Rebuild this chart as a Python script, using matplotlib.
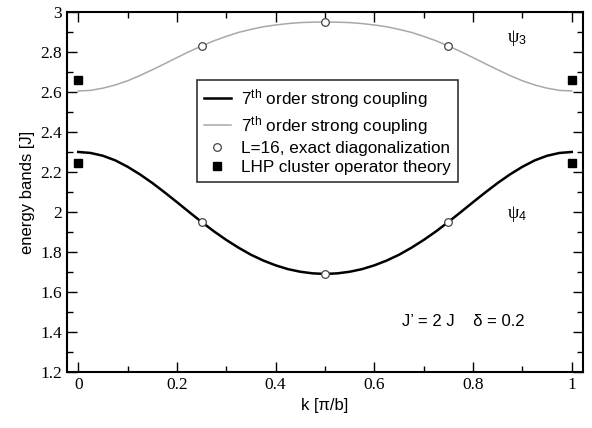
import matplotlib
matplotlib.use("Agg")
import matplotlib.pyplot as plt
from matplotlib.ticker import MultipleLocator

plt.rcParams['font.serif'] = ['Liberation Serif', 'DejaVu Serif']
plt.rcParams['font.sans-serif'] = ['Liberation Sans', 'DejaVu Sans']
plt.rcParams['font.family'] = 'serif'
plt.rcParams['mathtext.fontset'] = 'custom'
plt.rcParams['mathtext.rm'] = 'Liberation Sans'
plt.rcParams['mathtext.it'] = 'Liberation Sans:italic'

# strong coupling curves
k_curve = [0.000, 0.025, 0.050, 0.075, 0.100, 0.125, 0.150, 0.175, 0.200, 0.225,
           0.250, 0.275, 0.300, 0.325, 0.350, 0.375, 0.400, 0.425, 0.450, 0.475,
           0.500, 0.525, 0.550, 0.575, 0.600, 0.625, 0.650, 0.675, 0.700, 0.725,
           0.750, 0.775, 0.800, 0.825, 0.850, 0.875, 0.900, 0.925, 0.950, 0.975, 1.000]
psi4_curve = [2.300, 2.295, 2.281, 2.258, 2.226, 2.188, 2.145, 2.098, 2.049, 1.999,
              1.950, 1.903, 1.860, 1.821, 1.786, 1.757, 1.733, 1.714, 1.701, 1.693,
              1.690, 1.693, 1.701, 1.714, 1.733, 1.757, 1.786, 1.821, 1.860, 1.903,
              1.950, 1.999, 2.049, 2.098, 2.145, 2.188, 2.226, 2.258, 2.281, 2.295, 2.300]
psi3_curve = [2.605, 2.608, 2.619, 2.635, 2.656, 2.682, 2.711, 2.741, 2.772, 2.802,
              2.830, 2.856, 2.878, 2.898, 2.913, 2.926, 2.935, 2.942, 2.947, 2.949,
              2.950, 2.949, 2.947, 2.942, 2.935, 2.926, 2.913, 2.898, 2.878, 2.856,
              2.830, 2.802, 2.772, 2.741, 2.711, 2.682, 2.656, 2.635, 2.619, 2.608, 2.605]

# exact diagonalization L=16
k_ed = [0.25, 0.5, 0.75]
psi3_ed = [2.83, 2.95, 2.83]
psi4_ed = [1.95, 1.69, 1.95]

# LHP cluster operator theory
k_lhp = [0.0, 1.0]
psi3_lhp = [2.66, 2.66]
psi4_lhp = [2.245, 2.245]

xtick_vals = [0, 0.2, 0.4, 0.6, 0.8, 1.0]
xtick_labels = ['0', '0.2', '0.4', '0.6', '0.8', '1']
ytick_vals = [1.2, 1.4, 1.6, 1.8, 2.0, 2.2, 2.4, 2.6, 2.8, 3.0]
ytick_labels = ['1.2', '1.4', '1.6', '1.8', '2', '2.2', '2.4', '2.6', '2.8', '3']

fig = plt.figure(figsize=(5.92, 4.28), dpi=100)
ax = fig.add_axes([0.113, 0.131, 0.872, 0.841])

l1, = ax.plot(k_curve, psi4_curve, color='black', lw=1.8)
l2, = ax.plot(k_curve, psi3_curve, color='#a8a8a8', lw=1.1)
ax.plot(k_ed, psi3_ed, 'o', mfc='white', mec='#444444', ms=5.5, mew=0.9, zorder=5)
l3, = ax.plot(k_ed, psi4_ed, 'o', mfc='white', mec='#444444', ms=5.5, mew=0.9, zorder=5)
ax.plot(k_lhp, psi3_lhp, 's', color='black', ms=6, zorder=5)
l4, = ax.plot(k_lhp, psi4_lhp, 's', color='black', ms=6, zorder=5)

ax.set_xlim(-0.023, 1.023)
ax.set_ylim(1.2, 3.0)
ax.xaxis.set_minor_locator(MultipleLocator(0.1))
ax.yaxis.set_minor_locator(MultipleLocator(0.1))
ax.tick_params(which='both', direction='in', top=True, right=True, labelsize=12.5)
ax.tick_params(which='major', length=7, width=1)
ax.tick_params(which='minor', length=4, width=1)
ax.set_xticks(xtick_vals)
ax.set_xticklabels(xtick_labels, fontfamily='serif', fontsize=12.5)
ax.set_yticks(ytick_vals)
ax.set_yticklabels(ytick_labels, fontfamily='serif', fontsize=12.5)
for s in ax.spines.values():
    s.set_linewidth(1.5)

ax.set_xlabel('k [\u03c0/b]', fontfamily='sans-serif', fontsize=12)
ax.set_ylabel('energy bands [J]', fontfamily='sans-serif', fontsize=12)

ax.text(0.87, 2.85, '\u03c8', fontfamily='serif', fontsize=13)
ax.text(0.893, 2.838, '3', fontfamily='sans-serif', fontsize=9)
ax.text(0.87, 1.97, '\u03c8', fontfamily='serif', fontsize=13)
ax.text(0.893, 1.958, '4', fontfamily='sans-serif', fontsize=9)
ax.text(0.655, 1.45, "J\u2019 = 2 J    \u03b4 = 0.2", fontfamily='sans-serif', fontsize=12, va='center')

leg = ax.legend([l1, l2, l3, l4],
                [r'7$^{\rm th}$ order strong coupling', r'7$^{\rm th}$ order strong coupling',
                 'L=16, exact diagonalization', 'LHP cluster operator theory'],
                loc='upper left', bbox_to_anchor=(0.235, 0.835), frameon=True, fancybox=False,
                edgecolor='black', prop={'family': 'sans-serif', 'size': 12.3},
                handlelength=1.6, handletextpad=0.6, labelspacing=0.25, borderpad=0.4)
leg.get_frame().set_linewidth(1.2)

fig.savefig('out.png', dpi=100)
